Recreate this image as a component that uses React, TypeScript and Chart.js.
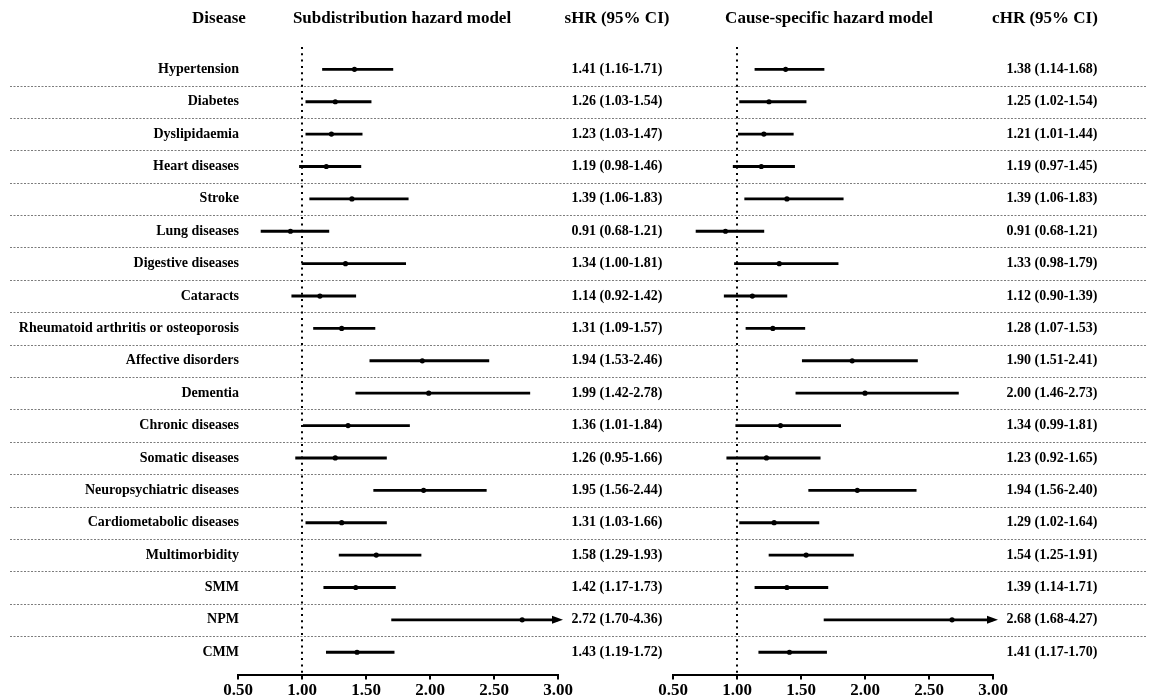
import React, { useEffect, useRef } from "react";
import { Chart, registerables } from "chart.js";

Chart.register(...registerables);

const diseases = [
  "Hypertension",
  "Diabetes",
  "Dyslipidaemia",
  "Heart diseases",
  "Stroke",
  "Lung diseases",
  "Digestive diseases",
  "Cataracts",
  "Rheumatoid arthritis or osteoporosis",
  "Affective disorders",
  "Dementia",
  "Chronic diseases",
  "Somatic diseases",
  "Neuropsychiatric diseases",
  "Cardiometabolic diseases",
  "Multimorbidity",
  "SMM",
  "NPM",
  "CMM",
];

const sHR = [1.41, 1.26, 1.23, 1.19, 1.39, 0.91, 1.34, 1.14, 1.31, 1.94, 1.99, 1.36, 1.26, 1.95, 1.31, 1.58, 1.42, 2.72, 1.43];
const sLow = [1.16, 1.03, 1.03, 0.98, 1.06, 0.68, 1.0, 0.92, 1.09, 1.53, 1.42, 1.01, 0.95, 1.56, 1.03, 1.29, 1.17, 1.7, 1.19];
const sHigh = [1.71, 1.54, 1.47, 1.46, 1.83, 1.21, 1.81, 1.42, 1.57, 2.46, 2.78, 1.84, 1.66, 2.44, 1.66, 1.93, 1.73, 4.36, 1.72];

const cHR = [1.38, 1.25, 1.21, 1.19, 1.39, 0.91, 1.33, 1.12, 1.28, 1.9, 2.0, 1.34, 1.23, 1.94, 1.29, 1.54, 1.39, 2.68, 1.41];
const cLow = [1.14, 1.02, 1.01, 0.97, 1.06, 0.68, 0.98, 0.9, 1.07, 1.51, 1.46, 0.99, 0.92, 1.56, 1.02, 1.25, 1.14, 1.68, 1.17];
const cHigh = [1.68, 1.54, 1.44, 1.45, 1.83, 1.21, 1.79, 1.39, 1.53, 2.41, 2.73, 1.81, 1.65, 2.4, 1.64, 1.91, 1.71, 4.27, 1.7];

const xTicks = [0.5, 1.0, 1.5, 2.0, 2.5, 3.0];
const refValue = 1.0;

const FONT = '"Liberation Serif", "Times New Roman", serif';

type PanelCfg = {
  key: string;
  hr: number[];
  low: number[];
  high: number[];
  modelTitle: string;
  modelTitleX: number;
  ciTitle: string;
  ciTitleX: number;
  ciTextX: number;
  sepFrom: number;
  sepTo: number;
  showDisease: boolean;
  padLeft: number;
  padRight: number;
  width: number;
};

function makeOverlay(cfg: PanelCfg) {
  return {
    id: "forestOverlay_" + cfg.key,
    beforeDatasetsDraw(chart: any) {
      const ctx = chart.ctx;
      const xs = chart.scales.x;
      const ys = chart.scales.y;
      ctx.save();
      ctx.strokeStyle = "#7c7c7c";
      ctx.lineWidth = 1;
      ctx.setLineDash([2, 1.5]);
      for (let i = 0; i < diseases.length - 1; i++) {
        const py = Math.round(ys.getPixelForValue(i + 0.5)) + 0.5;
        ctx.beginPath();
        ctx.moveTo(cfg.sepFrom, py);
        ctx.lineTo(cfg.sepTo, py);
        ctx.stroke();
      }
      const rx = xs.getPixelForValue(refValue);
      ctx.strokeStyle = "#000";
      ctx.lineWidth = 2;
      ctx.setLineDash([2, 4.3]);
      ctx.beginPath();
      ctx.moveTo(rx, chart.chartArea.top);
      ctx.lineTo(rx, chart.chartArea.bottom);
      ctx.stroke();
      ctx.restore();
    },
    afterDatasetsDraw(chart: any) {
      const ctx = chart.ctx;
      const xs = chart.scales.x;
      const ys = chart.scales.y;
      ctx.save();
      ctx.fillStyle = "#000";
      for (let i = 0; i < diseases.length; i++) {
        if (cfg.high[i] > xs.max) {
          const py = ys.getPixelForValue(i);
          const xr = xs.getPixelForValue(xs.max);
          ctx.beginPath();
          ctx.moveTo(xr + 5, py);
          ctx.lineTo(xr - 6, py - 4);
          ctx.lineTo(xr - 6, py + 4);
          ctx.closePath();
          ctx.fill();
        }
      }
      ctx.fillStyle = "#000";
      ctx.textBaseline = "middle";
      ctx.textAlign = "center";
      ctx.font = `bold 17px ${FONT}`;
      const headY = 19;
      if (cfg.showDisease) ctx.fillText("Disease", 219, headY);
      ctx.fillText(cfg.modelTitle, cfg.modelTitleX, headY);
      ctx.fillText(cfg.ciTitle, cfg.ciTitleX, headY);
      ctx.font = `bold 14px ${FONT}`;
      for (let i = 0; i < diseases.length; i++) {
        const py = ys.getPixelForValue(i);
        if (cfg.showDisease) {
          ctx.textAlign = "right";
          ctx.fillText(diseases[i], 239, py);
        }
        ctx.textAlign = "center";
        const txt = `${cfg.hr[i].toFixed(2)} (${cfg.low[i].toFixed(2)}-${cfg.high[i].toFixed(2)})`;
        ctx.fillText(txt, cfg.ciTextX, py);
      }
      ctx.restore();
    },
  };
}

function ForestPanel({ cfg, left }: { cfg: PanelCfg; left: number }) {
  const ref = useRef<HTMLCanvasElement | null>(null);
  useEffect(() => {
    if (!ref.current) return;
    const chart = new Chart(ref.current, {
      type: "bar",
      data: {
        datasets: [
          {
            type: "scatter",
            data: cfg.hr.map((v, i) => ({ x: v, y: i })),
            pointRadius: 2.6,
            pointBackgroundColor: "#000",
            pointBorderColor: "#000",
            pointBorderWidth: 0,
            order: 1,
          } as any,
          {
            type: "bar",
            indexAxis: "y",
            data: cfg.low.map((lo, i) => ({ x: [lo, cfg.high[i]], y: i })),
            backgroundColor: "#000",
            borderWidth: 0,
            barThickness: 2.2,
            order: 2,
          } as any,
        ],
      },
      options: {
        indexAxis: "y",
        responsive: false,
        animation: false,
        devicePixelRatio: 1,
        layout: { padding: { left: cfg.padLeft, right: cfg.padRight, top: 47, bottom: 0 } },
        plugins: { legend: { display: false }, tooltip: { enabled: false } },
        scales: {
          x: {
            type: "linear",
            min: xTicks[0],
            max: xTicks[xTicks.length - 1],
            offset: false,
            afterBuildTicks: (axis: any) => {
              axis.ticks = xTicks.map((v) => ({ value: v }));
            },
            ticks: {
              color: "#000",
              font: { family: FONT, size: 17, weight: "bold" },
              padding: 1,
              maxRotation: 0,
              callback: (v: any) => Number(v).toFixed(2),
            },
            grid: {
              display: true,
              offset: false,
              drawOnChartArea: false,
              drawTicks: true,
              tickLength: 5,
              color: "#000",
              lineWidth: 2,
            },
            border: { display: true, color: "#000", width: 2 },
          },
          y: {
            type: "linear",
            reverse: true,
            min: -0.69,
            max: 18.69,
            offset: false,
            grace: 0,
            bounds: "data",
            grid: { offset: false },
            display: false,
          },
        },
      } as any,
      plugins: [makeOverlay(cfg)],
    });
    return () => chart.destroy();
  }, []);
  return (
    <canvas
      ref={ref}
      width={cfg.width}
      height={702}
      style={{ position: "absolute", left, top: 0, width: cfg.width, height: 702 }}
    />
  );
}

const leftCfg: PanelCfg = {
  key: "sub",
  hr: sHR,
  low: sLow,
  high: sHigh,
  modelTitle: "Subdistribution hazard model",
  modelTitleX: 402,
  ciTitle: "sHR (95% CI)",
  ciTitleX: 617,
  ciTextX: 617,
  sepFrom: 10,
  sepTo: 640,
  showDisease: true,
  padLeft: 238,
  padRight: 680 - 558,
  width: 680,
};

const rightCfg: PanelCfg = {
  key: "cause",
  hr: cHR,
  low: cLow,
  high: cHigh,
  modelTitle: "Cause-specific hazard model",
  modelTitleX: 829 - 600,
  ciTitle: "cHR (95% CI)",
  ciTitleX: 1045 - 600,
  ciTextX: 1052 - 600,
  sepFrom: 40,
  sepTo: 546,
  showDisease: false,
  padLeft: 73,
  padRight: 549 - 393,
  width: 549,
};

export default function App() {
  return (
    <div
      style={{
        position: "fixed",
        left: 0,
        top: 0,
        width: 1149,
        height: 699,
        overflow: "hidden",
        background: "#fff",
      }}
    >
      <ForestPanel cfg={leftCfg} left={0} />
      <ForestPanel cfg={rightCfg} left={600} />
    </div>
  );
}
